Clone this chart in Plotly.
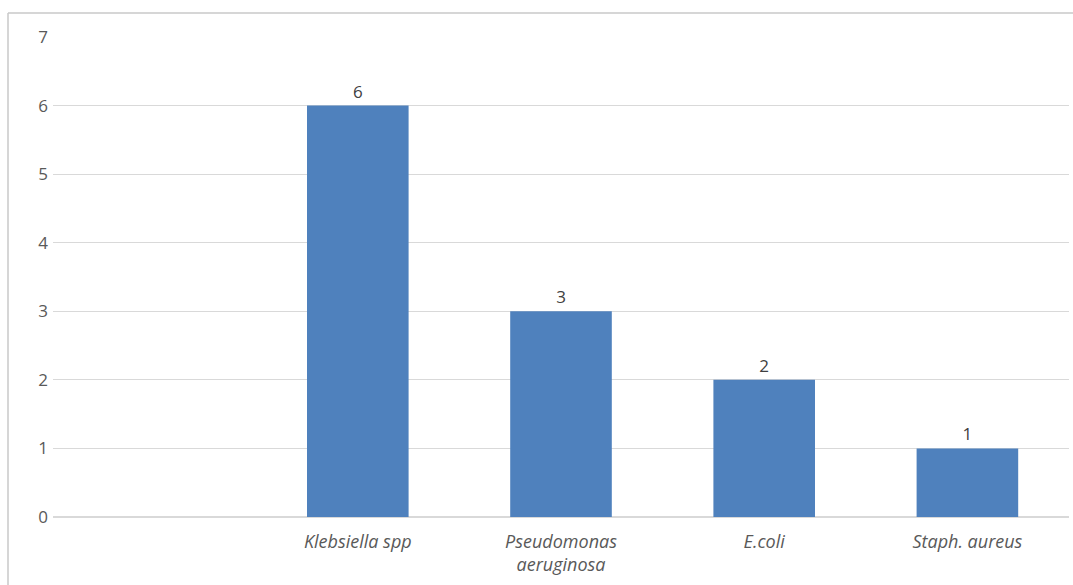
import plotly.graph_objects as go

categories = [" ", "Klebsiella spp", "Pseudomonas<br>aeruginosa", "E.coli", "Staph. aureus"]
values = [None, 6, 3, 2, 1]
labels = ["", "6", "3", "2", "1"]
y_ticks = [0, 1, 2, 3, 4, 5, 6, 7]

W, H = 1073, 585
L, R, T, B = 53, 4, 37, 68
pw = W - L - R
ph = H - T - B

fig = go.Figure()
fig.add_trace(go.Bar(
    x=categories, y=values, text=labels, textposition="outside",
    textfont=dict(size=17, color="#404040", family="Open Sans"),
    marker=dict(color="#4f81bd", line=dict(width=0)),
    cliponaxis=False,
))

fig.update_layout(
    width=W, height=H,
    margin=dict(l=L, r=R, t=T, b=B),
    paper_bgcolor="white", plot_bgcolor="white",
    bargap=0.5, showlegend=False,
    font=dict(family="Open Sans", color="#595959"),
    xaxis=dict(type="category", showgrid=False, showline=False, ticks="",
               tickfont=dict(size=18, color="#595959", family="Open Sans", style="italic"),
               ticklabelstandoff=12),
    yaxis=dict(range=[0, 7], tickvals=y_ticks, showgrid=True, gridcolor="#d9d9d9",
               gridwidth=1, zeroline=True, zerolinecolor="#d9d9d9", showline=False,
               tickfont=dict(size=17, color="#595959", family="Open Sans"),
               ticklabelstandoff=4),
)

# frame around the chart area (top and left edges visible)
x0 = (8 - L) / pw
y1 = 1 + (T - 13) / ph
fig.add_shape(type="line", xref="paper", yref="paper", x0=x0, x1=1 + R / pw + 0.01,
              y0=y1, y1=y1, line=dict(color="#c8c8c8", width=1.5))
fig.add_shape(type="line", xref="paper", yref="paper", x0=x0, x1=x0,
              y0=y1, y1=-B / ph - 0.01, line=dict(color="#c8c8c8", width=1.5))

fig.write_html("out.html")
